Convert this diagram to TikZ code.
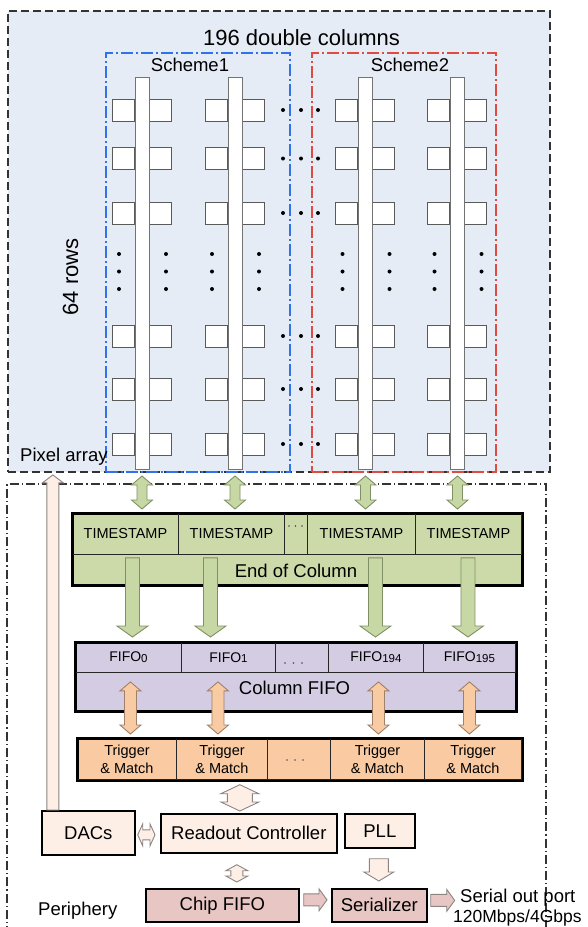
\documentclass[tikz,border=0pt]{standalone}
\usepackage{fontspec}
\setmainfont{Liberation Sans}
\usetikzlibrary{calc,shadows}
\definecolor{pablue}{HTML}{E6ECF6}
\definecolor{schblue}{HTML}{2F74E6}
\definecolor{schred}{HTML}{DE4C40}
\definecolor{pixgray}{HTML}{5A5A5A}
\definecolor{eocgreen}{HTML}{CCDAA9}
\definecolor{arrgreen}{HTML}{C8D8A4}
\definecolor{arrgreenline}{HTML}{7F9066}
\definecolor{fifopurple}{HTML}{D4CCE2}
\definecolor{trigorange}{HTML}{FACBA2}
\definecolor{arrorange}{HTML}{F9CBA2}
\definecolor{arrorangeline}{HTML}{A0806A}
\definecolor{peach}{HTML}{FDEFE6}
\definecolor{peachline}{HTML}{8C8480}
\definecolor{chippink}{HTML}{E8C6C3}

\newcommand\BAsetup[2]{%
  \path let \p1=#1, \p2=#2 in \pgfextra{%
    \pgfmathparse{veclen((\x2)-(\x1),(\y2)-(\y1))}\xdef\BAl{\pgfmathresult}%
    \pgfmathparse{atan2((\y2)-(\y1),(\x2)-(\x1))}\xdef\BAa{\pgfmathresult}%
    \xdef\BAx{\x1}\xdef\BAy{\y1}};}
% #1 style, #2 from, #3 to, #4 shaft half width, #5 head half width, #6 head length
\newcommand\dblarrow[6]{\BAsetup{#2}{#3}%
  \begin{scope}[shift={(\BAx,\BAy)},rotate=\BAa]
   \path[#1] (0pt,0pt) -- (#6pt,#5pt) -- (#6pt,#4pt) -- ({\BAl pt-#6pt},#4pt)
     -- ({\BAl pt-#6pt},#5pt) -- (\BAl pt,0pt) -- ({\BAl pt-#6pt},-#5pt)
     -- ({\BAl pt-#6pt},-#4pt) -- (#6pt,-#4pt) -- (#6pt,-#5pt) -- cycle;
  \end{scope}}
\newcommand\sglarrow[6]{\BAsetup{#2}{#3}%
  \begin{scope}[shift={(\BAx,\BAy)},rotate=\BAa]
   \path[#1] (0pt,#4pt) -- ({\BAl pt-#6pt},#4pt) -- ({\BAl pt-#6pt},#5pt)
     -- (\BAl pt,0pt) -- ({\BAl pt-#6pt},-#5pt) -- ({\BAl pt-#6pt},-#4pt)
     -- (0pt,-#4pt) -- cycle;
  \end{scope}}

\begin{document}
\begin{tikzpicture}[x=1pt,y=-1pt,
  pix/.style={draw=pixgray,fill=white,line width=1pt,minimum size=22pt,inner sep=0pt},
  colbar/.style={draw=pixgray!85,fill=white,line width=1pt,minimum width=14pt,minimum height=392pt,inner sep=0pt,anchor=north},
  dotc/.style={circle,fill=black,inner sep=0pt,minimum size=4pt},
  smalldot/.style={circle,fill=black!70,inner sep=0pt,minimum size=1.8pt},
  cell/.style={draw=black!85,line width=0.9pt,inner sep=0pt,anchor=north west},
  blk/.style={draw=black,line width=1.7pt,inner sep=0pt,anchor=north west,
              drop shadow={shadow xshift=1.3pt,shadow yshift=-1.3pt,fill=black!45,opacity=1}},
  txt/.style={inner sep=0pt},
  f22/.style={font=\fontsize{22}{26}\selectfont},
  f18/.style={font=\fontsize{18.5}{22}\selectfont},
  f14/.style={font=\fontsize{14.5}{18}\selectfont},
  fifof/.style={font=\fontsize{14}{17}\selectfont},
  greenarr/.style={fill=arrgreen,draw=arrgreenline,line width=0.9pt},
  orangearr/.style={fill=arrorange,draw=arrorangeline,line width=0.9pt},
  peacharr/.style={fill=peach,draw=peachline,line width=0.9pt},
  pinkarr/.style={fill=chippink,draw=peachline,line width=0.9pt},
  schemebox/.style={dash pattern=on 12pt off 3pt on 2pt off 3pt,line width=1.5pt,anchor=north west,minimum width=184pt,minimum height=419pt,inner sep=0pt},
]
\newcommand\sub[1]{\raisebox{-0.6pt}{\fontsize{11.5}{12}\selectfont #1}}
\useasboundingbox (0,0) rectangle (588,927);

% ---------- pixel array ----------
\node[draw=black!80,dash pattern=on 8pt off 4pt,line width=1.9pt,fill=pablue,anchor=north west,
      minimum width=542pt,minimum height=461pt,inner sep=0pt] (pa) at (7,10) {};
\node[schemebox,draw=schblue] (sch1) at (105,52) {};
\node[schemebox,draw=schred] (sch2) at (311,52) {};
\node[txt,f22,anchor=base] (title) at (301.5,45) {196 double columns};
\node[txt,f18,anchor=base] (s1lbl) at (190,71) {Scheme1};
\node[txt,f18,anchor=base] (s2lbl) at (410,71) {Scheme2};
\node[txt,f22,anchor=base,rotate=90] (rows) at (78,277) {64 rows};
\node[txt,f18,anchor=base west] (palbl) at (20,461) {Pixel array};

\foreach \cx [count=\i] in {142,235,365.5,457.5} {
  \foreach \ry [count=\j] in {110,158.5,213,336,389,444} {
    \node[pix] (pl-\i-\j) at (\cx-19,\ry) {};
    \node[pix] (pr-\i-\j) at (\cx+18,\ry) {};
  }
  \node[colbar] (bar\i) at (\cx,77) {};
  \foreach \dy in {254,271.5,289} {
    \node[dotc] at (\cx-23,\dy) {};
    \node[dotc] at (\cx+24,\dy) {};
  }
}
\foreach \ry in {110,158.5,213,336,389,444} {
  \foreach \dx in {283,301,318} {\node[dotc] at (\dx,\ry) {};}
}

% ---------- periphery frame ----------
\coordinate (perBL) at (7,935);
\coordinate (perTL) at (7,484);
\coordinate (perTR) at (546,484);
\coordinate (perBR) at (546,935);
\draw[black!80,dash pattern=on 9pt off 3pt on 1.2pt off 3pt,line width=1.3pt]
  (perBL) -- (perTL) -- (perTR) -- (perBR);

% ---------- End of Column ----------
\node[blk,fill=eocgreen,minimum width=449pt,minimum height=71pt] (eoc) at (72,513) {};
\node[cell,f14,minimum width=106pt,minimum height=41pt] (ts1) at (72,513) {TIMESTAMP};
\node[cell,f14,minimum width=106pt,minimum height=41pt] (ts2) at (178,513) {TIMESTAMP};
\node[cell,minimum width=23pt,minimum height=41pt] (tsd) at (284,513) {};
\node[cell,f14,minimum width=108pt,minimum height=41pt] (ts3) at (307,513) {TIMESTAMP};
\node[cell,f14,minimum width=106pt,minimum height=41pt] (ts4) at (415,513) {TIMESTAMP};
\draw[line width=1.7pt] (eoc.north west) rectangle (eoc.south east);
\foreach \dx in {289,295.5,302} {\node[smalldot] at (\dx,526) {};}
\node[txt,f18,anchor=base] (eoclbl) at (296,577) {End of Column};

% ---------- Column FIFO ----------
\node[blk,fill=fifopurple,minimum width=440pt,minimum height=68pt] (cfifo) at (75,642) {};
\node[cell,fifof,minimum width=106pt,minimum height=30pt] (fifo0) at (75,642) {FIFO\sub{0}};
\node[cell,fifof,minimum width=94pt,minimum height=30pt] (fifo1) at (181,642) {FIFO\sub{1}};
\node[cell,minimum width=53pt,minimum height=30pt] (fifod) at (275,642) {};
\node[cell,fifof,minimum width=95pt,minimum height=30pt] (fifo194) at (328,642) {FIFO\sub{194}};
\node[cell,fifof,minimum width=92pt,minimum height=30pt] (fifo195) at (423,642) {FIFO\sub{195}};
\draw[line width=1.7pt] (cfifo.north west) rectangle (cfifo.south east);
\foreach \dx in {285,293.5,302} {\node[smalldot] at (\dx,663) {};}
\node[txt,f18,anchor=base] (cfifolbl) at (294.5,694) {Column FIFO};

% ---------- Trigger & Match ----------
\node[blk,fill=trigorange,minimum width=444pt,minimum height=41pt] (tm) at (77,738) {};
\node[cell,f14,align=center,minimum width=99pt,minimum height=41pt] (tm1) at (77,738) {Trigger\\\& Match};
\node[cell,f14,align=center,minimum width=91pt,minimum height=41pt] (tm2) at (176,738) {Trigger\\\& Match};
\node[cell,minimum width=63pt,minimum height=41pt] (tmd) at (267,738) {};
\node[cell,f14,align=center,minimum width=94pt,minimum height=41pt] (tm3) at (330,738) {Trigger\\\& Match};
\node[cell,f14,align=center,minimum width=97pt,minimum height=41pt] (tm4) at (424,738) {Trigger\\\& Match};
\draw[line width=1.7pt] (tm.north west) rectangle (tm.south east);
\foreach \dx in {287,295,303} {\node[smalldot] at (\dx,760) {};}

% ---------- periphery blocks ----------
\node[blk,f18,fill=peach,minimum width=93pt,minimum height=44pt] (dacs) at (41,810) {DACs};
\node[blk,f18,fill=peach,minimum width=176pt,minimum height=39pt] (ro) at (160,813) {Readout Controller};
\node[blk,f18,fill=peach,minimum width=70pt,minimum height=34pt] (pll) at (344,813) {PLL};
\node[blk,f18,fill=chippink,minimum width=153pt,minimum height=33pt] (chip) at (145,888) {Chip FIFO};
\node[blk,f18,fill=chippink,minimum width=95pt,minimum height=33pt] (ser) at (331,888) {Serializer};
\node[txt,f18,anchor=base west] (perlbl) at (38,915) {Periphery};
\node[txt,f18,anchor=base west] (outlbl1) at (460,902) {Serial out port};
\node[txt,font=\fontsize{17.5}{20}\selectfont,anchor=base west] (outlbl2) at (453,922) {120Mbps/4Gbps};
\coordinate (outp) at ($(ser.east)+(27,-5)$);

% ---------- block arrows ----------
\foreach \i in {1,...,4} {
  \dblarrow{greenarr}{($(bar\i.south)+(0,6)$)}{($(bar\i.south |- eoc.north)+(0,-4)$)}{5}{10.5}{9}
}
\foreach \nm/\dx in {ts1/7,ts2/-21,ts3/14,ts4/-0.5} {
  \sglarrow{greenarr}{($(\nm.south)+(\dx,3)$)}{($(\nm.south |- cfifo.north)+(\dx,-5)$)}{7}{15.5}{11}
}
\foreach \nm/\dx in {fifo0/2,fifo1/-10.5,fifo194/2.5,fifo195/0} {
  \dblarrow{orangearr}{($(\nm.south)+(\dx,9)$)}{($(\nm.south |- tm.north)+(\dx,-4)$)}{6}{10.5}{9}
}
\dblarrow{peacharr}{($(ro.north |- tm.south)+(-9,4)$)}{($(ro.north)+(-9,-2)$)}{12.5}{19}{9}
\dblarrow{peacharr}{($(ro.south)+(-12,11)$)}{($(ro.south |- chip.north)+(-12,-6)$)}{6}{11}{6}
\dblarrow{peacharr}{($(dacs.east)+(2,2)$)}{($(dacs.east -| ro.west)+(-5,2)$)}{5}{11}{5}
\sglarrow{peacharr}{($(pll.south)+(-1,10)$)}{($(pll.south |- ser.north)+(-1,-7)$)}{9.5}{15}{9}
\sglarrow{pinkarr}{($(chip.east)+(4,-5.5)$)}{($(chip.east -| ser.west)+(-4,-5.5)$)}{6}{11}{8}
\sglarrow{pinkarr}{($(ser.east)+(3,-5)$)}{(outp)}{6}{11}{8}
\sglarrow{peacharr}{($(dacs.north)+(-35.5,0)$)}{($(dacs.north |- pa.south)+(-35.5,2)$)}{6}{10.5}{8}
\end{tikzpicture}
\end{document}
